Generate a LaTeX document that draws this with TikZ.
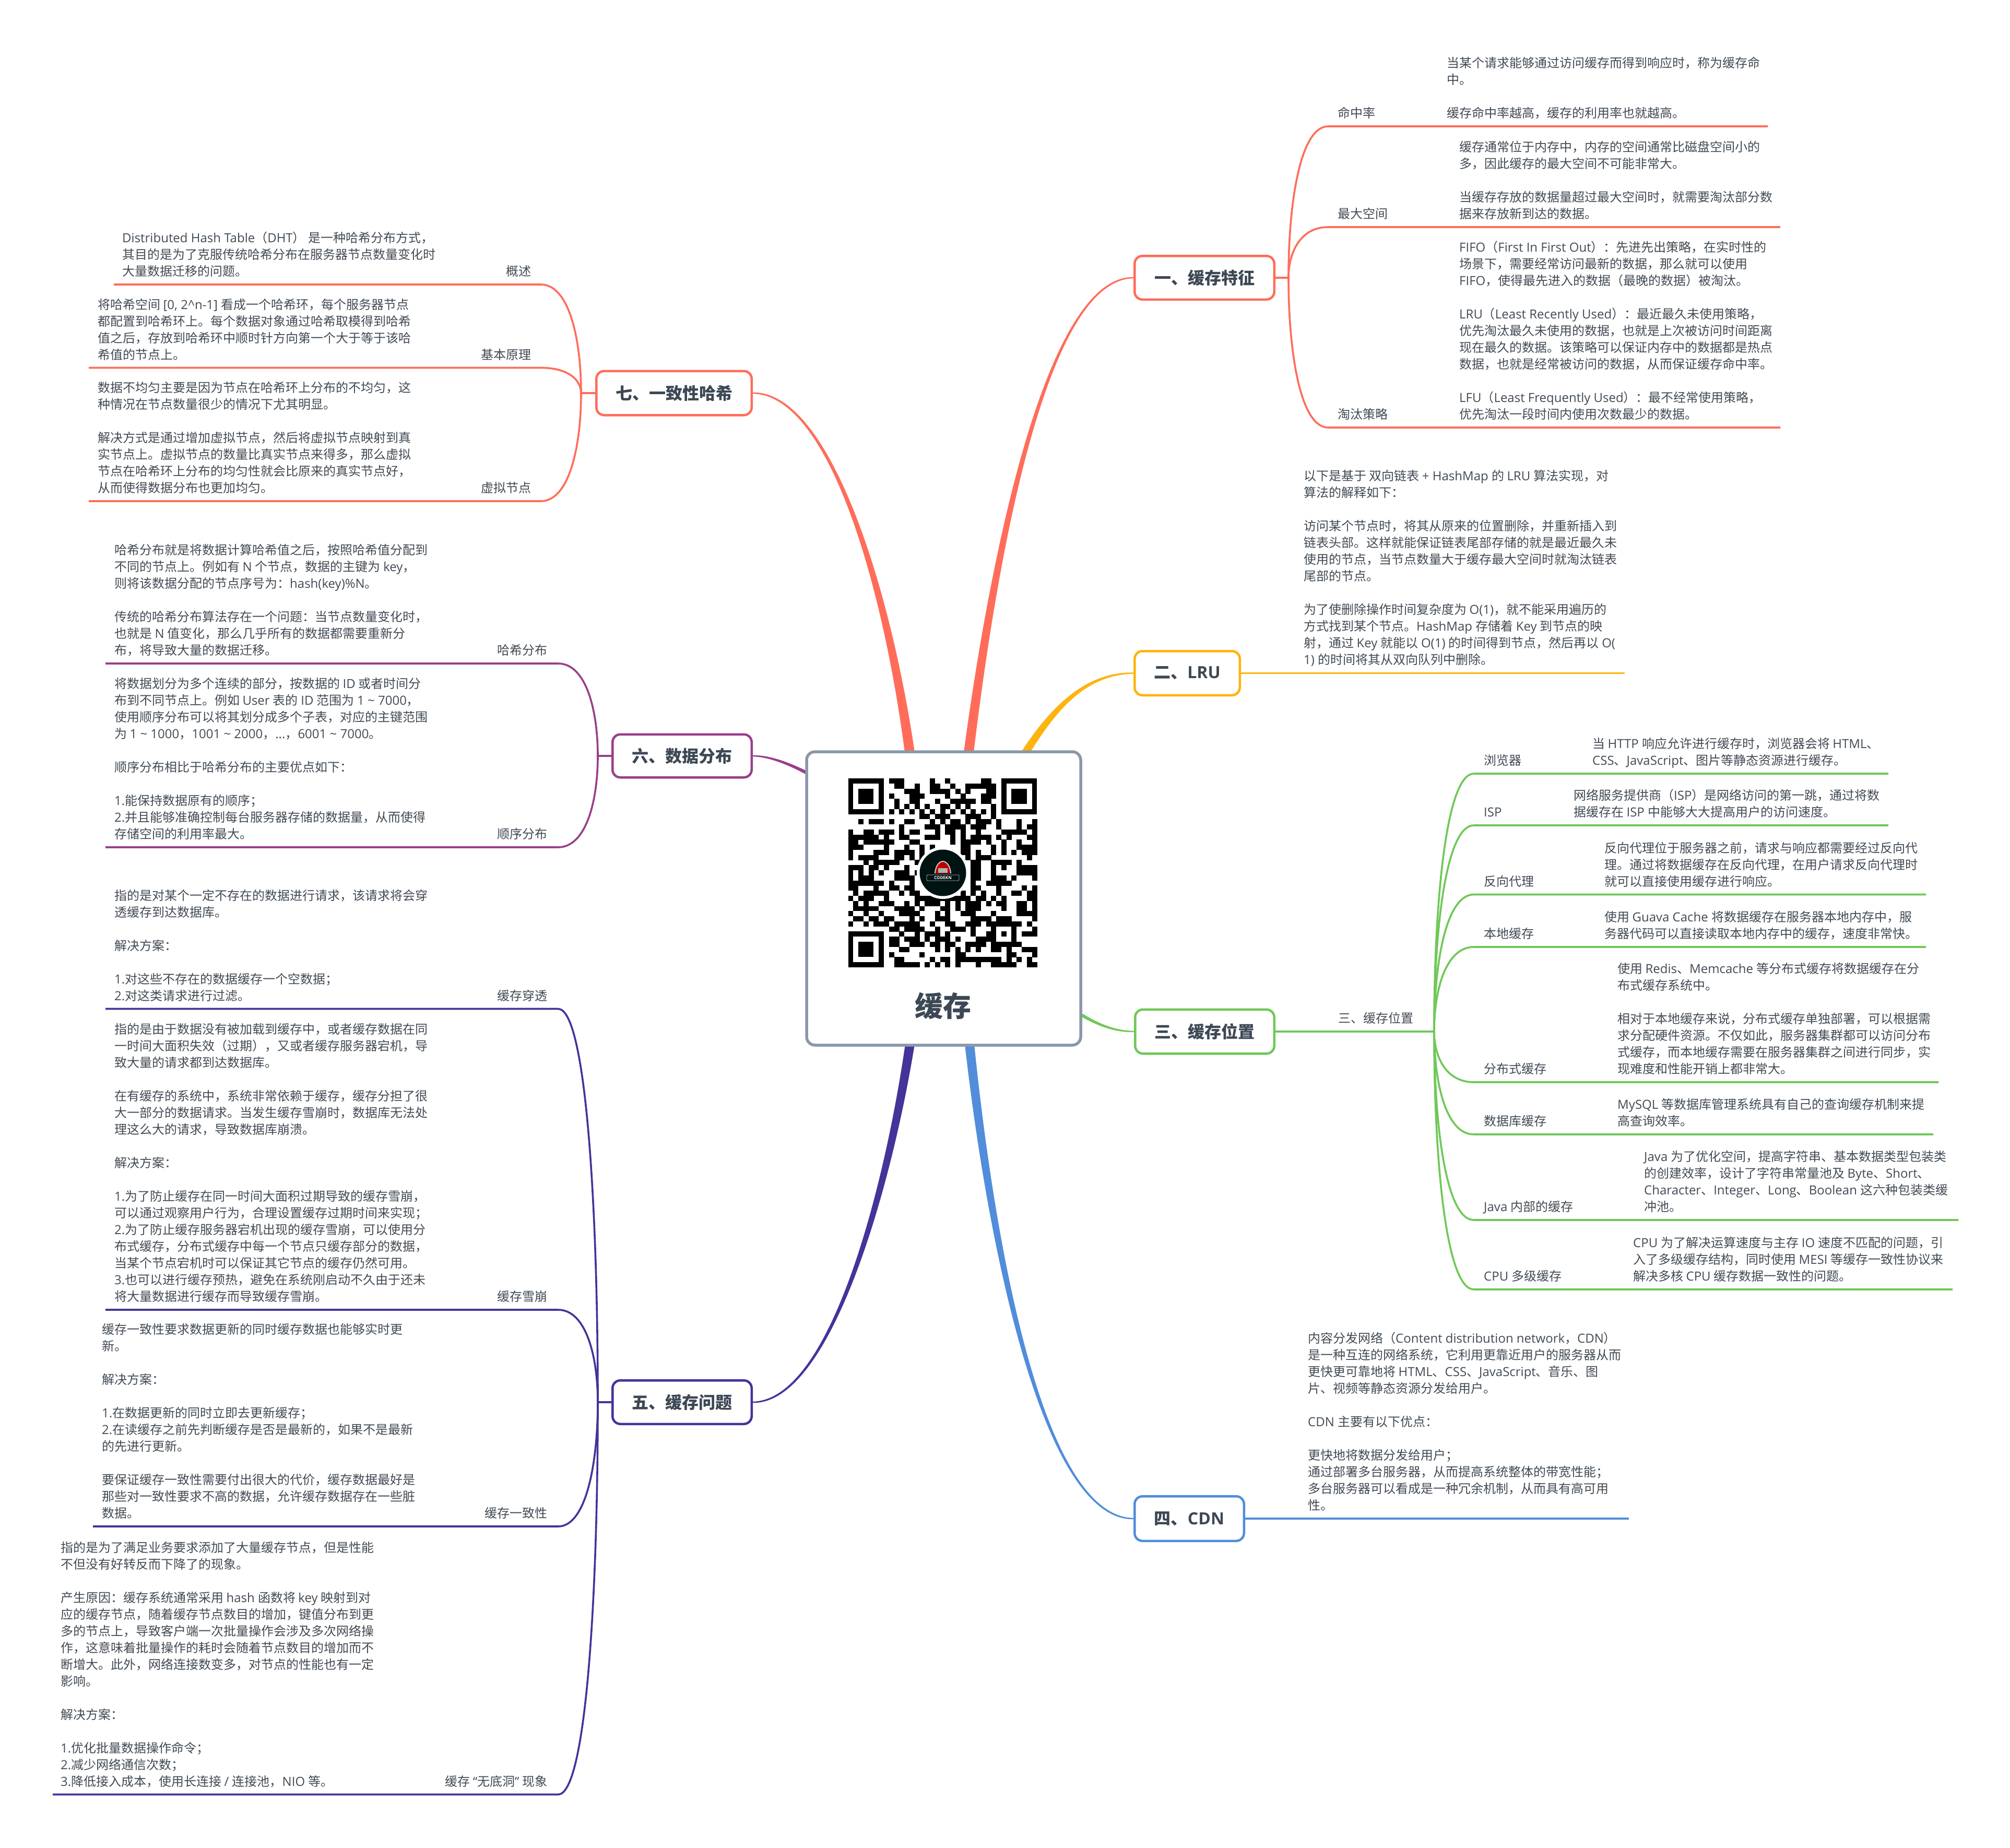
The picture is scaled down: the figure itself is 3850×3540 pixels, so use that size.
\documentclass[tikz,border=0pt]{standalone}
\usepackage{fontspec}
\usetikzlibrary{calc,backgrounds}
\setmainfont{Open Sans}
\newfontfamily\latinf{Open Sans}
\newfontfamily\cjkf{Noto Sans CJK SC}
\XeTeXinterchartokenstate=1
\makeatletter
\count@=1
\loop\ifnum\count@<"2E80 \XeTeXcharclass\count@=0 \advance\count@ 1 \repeat
\count@="2E80
\loop\ifnum\count@<"A000 \XeTeXcharclass\count@=10 \advance\count@ 1 \repeat
\count@="F900
\loop\ifnum\count@<"FB00 \XeTeXcharclass\count@=10 \advance\count@ 1 \repeat
\count@="FF00
\loop\ifnum\count@<"FFF0 \XeTeXcharclass\count@=10 \advance\count@ 1 \repeat
\makeatother
\XeTeXinterchartoks 0 10 = {\cjkf}
\XeTeXinterchartoks 10 0 = {\latinf}
\XeTeXinterchartoks 4095 10 = {\cjkf}
\XeTeXinterchartoks 4095 0 = {\latinf}
\definecolor{coral}{HTML}{FF6D5A}
\definecolor{amber}{HTML}{FDB40E}
\definecolor{leaf}{HTML}{6FC858}
\definecolor{sky}{HTML}{518DDB}
\definecolor{indigo}{HTML}{43349A}
\definecolor{plum}{HTML}{993F8A}
\definecolor{slate}{HTML}{8A97AB}
\definecolor{ink}{HTML}{414A54}
\definecolor{title}{HTML}{3D4855}
\tikzset{
  body/.style={inner sep=0pt,yshift=-2pt,align=left,text=ink,font=\fontsize{24}{32}\selectfont,
    execute at end node={\rule[-7pt]{0pt}{7pt}}},
  tl/.style={body,anchor=south west},
  tr/.style={body,anchor=south east},
  branch/.style={draw=#1,line width=4.5pt,rounded corners=15pt,fill=white,inner sep=0pt,
    text=title,font=\fontsize{32}{36}\selectfont\bfseries},
  conn/.style={draw=#1,line width=3.6pt},
}
% colour, junction, curve end, line end
\newcommand\twig[4]{\draw[conn=#1] (#2) .. controls ($(#2)!.5!(#2|-#3)$) and ($(#2|-#3)!.3!(#3)$) .. (#3) -- (#4);}
% colour, start, c1, c2, end, dx, dy, half width at c2
\newcommand\trunk[8]{\fill[#1] ($(#2)+(#6,#7)$) .. controls ($(#3)+0.75*(#6,#7)$) and ($(#4)+(0,#8)$) .. ($(#5)+(0,1.2)$) -- ($(#5)+(0,-1.2)$) .. controls ($(#4)+(0,-#8)$) and ($(#3)-0.75*(#6,#7)$) .. ($(#2)-(#6,#7)$) -- cycle;}
\newcommand\finder[2]{%
  \fill[black] ({1624.5+9.78*#1},{1491+9.78*#2}) rectangle +(68.5,68.5);
  \fill[white] ({1624.5+9.78*(#1+1)},{1491+9.78*(#2+1)}) rectangle +(48.9,48.9);
  \fill[black] ({1624.5+9.78*(#1+2)},{1491+9.78*(#2+2)}) rectangle +(29.3,29.3);}
\begin{document}
\begin{tikzpicture}[x=1pt,y=-1pt]
\useasboundingbox (0,0) rectangle (3850,3540);
\begin{scope}[on background layer]
\fill[white] (0,0) rectangle (3850,3540);
\end{scope}

% central topic
\node[draw=slate,line width=5.5pt,rounded corners=16pt,fill=white,minimum width=525pt,minimum height=562pt,inner sep=0pt] (root) at (1807.5,1721) {};
\node[inner sep=0pt,text=title,font=\fontsize{54}{60}\selectfont\bfseries] (roottext) at (1806,1927) {缓存};

% QR code
\foreach \r/\cs in {
0/{8,9,10,16,19,26,27},
1/{9,10,13,16,17,20,23,24,25,26,27,28},
2/{11,12,13,16,17,18,19,21,23,27,28},
3/{8,12,13,14,19,22,26,27,28},
4/{9,12,13,17,20,21,22,23,24,26,27},
5/{9,11,13,15,18,19,21,23,28},
6/{8,10,12,14,16,18,20,22,24,26,28},
7/{14,15,17,18,19,23,24,25,28},
8/{2,4,5,6,8,11,12,16,18,20,21,23,25,26,27,29,33,36},
9/{10,15,16,17,19,20,21,22,24,25,26,29,33,35,36},
10/{0,3,4,6,7,8,10,12,13,17,19,20,22,25,30,31,32,33,34,36},
11/{0,1,2,3,4,5,7,10,11,15,16,17,20,22,24,25,26,27,29,31,35,36},
12/{0,1,3,4,5,6,7,8,12,13,20,22,23,24,25,27,30,33,36},
13/{0,1,2,7,11,14,16,22,23,28,30,33,34,35,36},
14/{0,5,6,7,9,10,11,12,14,22,23,25,28,30,32,34,35,36},
15/{0,2,3,4,5,9,10,12,14,23,25,26,27,35},
16/{3,5,6,7,8,9,13,24,25,28,29,30,31,33},
17/{0,1,2,4,5,7,11,24,25,28,30,33,34,35,36},
18/{0,2,4,6,9,10,11,13,24,25,28,33,34,35,36},
19/{0,2,3,4,9,10,11,12,24,25,28,29,30,32,36},
20/{0,1,2,3,4,5,6,8,12,24,27,28,29,30,31},
21/{0,1,5,8,9,11,12,24,25,29,34,36},
22/{1,3,4,5,6,7,10,12,13,22,24,26,29,32,33,35,36},
23/{0,2,3,4,7,13,14,15,16,17,18,19,20,21,22,23,25,26,28,30,35,36},
24/{1,3,6,7,8,11,13,15,16,17,19,21,23,24,25,27,29,30,33,34,36},
25/{1,2,3,4,5,9,10,11,12,14,18,19,21,23,24,25,30,33,34,36},
26/{0,3,6,10,11,12,13,17,19,22,23,24,28,33,34,35,36},
27/{1,2,4,5,7,8,12,14,17,18,19,24,25,26,27,29,30,31,36},
28/{0,3,5,6,7,9,10,11,12,13,16,19,20,23,24,25,27,28,29,30,31,32,33,35},
29/{8,9,11,12,13,14,17,20,21,22,24,28,32,36},
30/{10,13,15,16,17,19,24,27,28,30,32,34,35,36},
31/{8,9,11,12,13,15,17,18,19,21,25,26,27,28,32},
32/{8,9,12,13,14,16,17,19,20,23,24,25,26,28,29,30,31,32,33},
33/{10,11,17,19,21,23,25,28,29,31,34,35,36},
34/{8,14,21,22,31,32,36},
35/{9,10,16,18,19,21,22,23,24,25,26,27,28,29,31,33,35},
36/{9,10,11,12,13,15,17,19,21,25,28,29,30,31,32,35,36}}{
  \foreach \c in \cs { \fill[black] ({1624.5+9.78*\c},{1491+9.78*\r}) rectangle +(9.98,9.98); }
}
\finder{0}{0}\finder{30}{0}\finder{0}{30}
% logo
\fill[white] (1806,1672) circle (50);
\fill[black!85!teal] (1806,1672) circle (44.5);
\fill[black!20] (1790,1673) .. controls (1791,1656) and (1800,1649) .. (1806,1649) .. controls (1812,1649) and (1821,1656) .. (1822,1673) -- cycle;
\fill[red!75!black] (1792,1673) .. controls (1793,1658) and (1801,1651) .. (1806,1651) .. controls (1811,1651) and (1819,1658) .. (1820,1673) -- cycle;
\fill[black!30] (1797,1663) rectangle (1815,1672);
\node[draw=black!25,line width=.8pt,rounded corners=1.5pt,minimum width=62pt,minimum height=11pt,inner sep=0pt,text=white,font=\fontsize{8}{9}\selectfont\bfseries] (logo) at (1806,1681.5) {CODEKN};

% branch topics
\node[branch=coral,minimum width=267.5pt,minimum height=83.5pt] (b1) at (2307,532) {一、缓存特征};
\node[branch=amber,minimum width=201.5pt,minimum height=84.5pt] (b2) at (2274,1289.5) {二、LRU};
\node[branch=leaf,minimum width=266.5pt,minimum height=84.5pt] (b3) at (2307.5,1976) {三、缓存位置};
\node[branch=sky,minimum width=209.5pt,minimum height=85.5pt] (b4) at (2278,2909) {四、CDN};
\node[branch=indigo,minimum width=266.5pt,minimum height=83.5pt] (b5) at (1306.5,2686) {五、缓存问题};
\node[branch=plum,minimum width=266.5pt,minimum height=82.5pt] (b6) at (1306.5,1448) {六、数据分布};
\node[branch=coral,minimum width=297.5pt,minimum height=84.5pt] (b7) at (1291,753) {七、一致性哈希};

% tapered main connectors
\begin{scope}[on background layer]
\coordinate (s1) at (1855,1445); \coordinate (s1a) at (1900,1090); \coordinate (s1b) at (2000,532);
\trunk{coral}{s1}{s1a}{s1b}{b1.west}{9.5}{0}{4}
\coordinate (s2) at (1950,1465); \coordinate (s2a) at (2015,1355); \coordinate (s2b) at (2080,1289.5);
\trunk{amber}{s2}{s2a}{s2b}{b2.west}{7}{4}{3}
\coordinate (s3) at (2040,1925); \coordinate (s3a) at (2080,1950); \coordinate (s3b) at (2120,1976);
\trunk{leaf}{s3}{s3a}{s3b}{b3.west}{-1.7}{3.5}{2.2}
\coordinate (s4) at (1857,2000); \coordinate (s4a) at (1900,2400); \coordinate (s4b) at (2000,2909);
\trunk{sky}{s4}{s4a}{s4b}{b4.west}{-9}{0}{4}
\coordinate (s5) at (1743,2000); \coordinate (s5a) at (1700,2280); \coordinate (s5b) at (1590,2686);
\trunk{indigo}{s5}{s5a}{s5b}{b5.east}{9}{0}{4}
\coordinate (s6) at (1580,1500); \coordinate (s6a) at (1530,1470); \coordinate (s6b) at (1480,1448);
\trunk{plum}{s6}{s6a}{s6b}{b6.east}{-1.7}{3.5}{2.2}
\coordinate (s7) at (1743,1445); \coordinate (s7a) at (1700,1130); \coordinate (s7b) at (1590,753);
\trunk{coral}{s7}{s7a}{s7b}{b7.east}{-9.5}{0}{4}
\end{scope}

% ---------- 一
\coordinate (j1) at (2468,532);
\coordinate (a11) at (2544,242); \coordinate (e11) at (3386,242);
\coordinate (a12) at (2544,435); \coordinate (e12) at (3410,435);
\coordinate (a13) at (2544,819); \coordinate (e13) at (3410,819);
\draw[conn=coral] (b1) -- (j1);
\twig{coral}{j1}{a11}{e11}\twig{coral}{j1}{a12}{e12}\twig{coral}{j1}{a13}{e13}
\node[tl] (l11) at (2562,231) {命中率};
\node[tl] (t11) at (2771,231) {当某个请求能够通过访问缓存而得到响应时，称为缓存命\\中。\\[32pt]缓存命中率越高，缓存的利用率也就越高。};
\node[tl] (l12) at (2562,424) {最大空间};
\node[tl] (t12) at (2795,424) {缓存通常位于内存中，内存的空间通常比磁盘空间小的\\多，因此缓存的最大空间不可能非常大。\\[32pt]当缓存存放的数据量超过最大空间时，就需要淘汰部分数\\据来存放新到达的数据。};
\node[tl] (l13) at (2562,808) {淘汰策略};
\node[tl] (t13) at (2795,808) {FIFO（First In First Out）：先进先出策略，在实时性的\\场景下，需要经常访问最新的数据，那么就可以使用\\FIFO，使得最先进入的数据（最晚的数据）被淘汰。\\[32pt]LRU（Least Recently Used）：最近最久未使用策略，\\优先淘汰最久未使用的数据，也就是上次被访问时间距离\\现在最久的数据。该策略可以保证内存中的数据都是热点\\数据，也就是经常被访问的数据，从而保证缓存命中率。\\[32pt]LFU（Least Frequently Used）：最不经常使用策略，\\优先淘汰一段时间内使用次数最少的数据。};

% ---------- 二
\coordinate (e2) at (3112,1289.5);
\draw[conn=amber] (b2) -- (e2);
\node[tl] (t2) at (2497,1278) {以下是基于 双向链表 + HashMap 的 LRU 算法实现，对\\算法的解释如下：\\[32pt]访问某个节点时，将其从原来的位置删除，并重新插入到\\链表头部。这样就能保证链表尾部存储的就是最近最久未\\使用的节点，当节点数量大于缓存最大空间时就淘汰链表\\尾部的节点。\\[32pt]为了使删除操作时间复杂度为 O(1)，就不能采用遍历的\\方式找到某个节点。HashMap 存储着 Key 到节点的映\\射，通过 Key 就能以 O(1) 的时间得到节点，然后再以 O(\\1) 的时间将其从双向队列中删除。};

% ---------- 三
\coordinate (j3) at (2747,1976);
\draw[conn=leaf] (b3) -- (j3);
\node[tl] (l30) at (2563,1965) {三、缓存位置};
\coordinate (a31) at (2823,1482); \coordinate (e31) at (3617,1482);
\coordinate (a32) at (2823,1581); \coordinate (e32) at (3617,1581);
\coordinate (a33) at (2823,1713.5); \coordinate (e33) at (3689,1713.5);
\coordinate (a34) at (2823,1814); \coordinate (e34) at (3689,1814);
\coordinate (a35) at (2823,2073); \coordinate (e35) at (3713,2073);
\coordinate (a36) at (2823,2173); \coordinate (e36) at (3703,2173);
\coordinate (a37) at (2823,2337); \coordinate (e37) at (3751,2337);
\coordinate (a38) at (2823,2470); \coordinate (e38) at (3740,2470);
\twig{leaf}{j3}{a31}{e31}\twig{leaf}{j3}{a32}{e32}\twig{leaf}{j3}{a33}{e33}\twig{leaf}{j3}{a34}{e34}
\twig{leaf}{j3}{a35}{e35}\twig{leaf}{j3}{a36}{e36}\twig{leaf}{j3}{a37}{e37}\twig{leaf}{j3}{a38}{e38}
\node[tl] (l31) at (2842,1471) {浏览器};
\node[tl] (t31) at (3050,1471) {当 HTTP 响应允许进行缓存时，浏览器会将 HTML、\\CSS、JavaScript、图片等静态资源进行缓存。};
\node[tl] (l32) at (2842,1570) {ISP};
\node[tl] (t32) at (3014,1570) {网络服务提供商（ISP）是网络访问的第一跳，通过将数\\据缓存在 ISP 中能够大大提高用户的访问速度。};
\node[tl] (l33) at (2842,1702.5) {反向代理};
\node[tl] (t33) at (3073,1702.5) {反向代理位于服务器之前，请求与响应都需要经过反向代\\理。通过将数据缓存在反向代理，在用户请求反向代理时\\就可以直接使用缓存进行响应。};
\node[tl] (l34) at (2842,1803) {本地缓存};
\node[tl] (t34) at (3073,1803) {使用 Guava Cache 将数据缓存在服务器本地内存中，服\\务器代码可以直接读取本地内存中的缓存，速度非常快。};
\node[tl] (l35) at (2842,2062) {分布式缓存};
\node[tl] (t35) at (3098,2062) {使用 Redis、Memcache 等分布式缓存将数据缓存在分\\布式缓存系统中。\\[32pt]相对于本地缓存来说，分布式缓存单独部署，可以根据需\\求分配硬件资源。不仅如此，服务器集群都可以访问分布\\式缓存，而本地缓存需要在服务器集群之间进行同步，实\\现难度和性能开销上都非常大。};
\node[tl] (l36) at (2842,2162) {数据库缓存};
\node[tl] (t36) at (3098,2162) {MySQL 等数据库管理系统具有自己的查询缓存机制来提\\高查询效率。};
\node[tl] (l37) at (2842,2326) {Java 内部的缓存};
\node[tl] (t37) at (3149,2326) {Java 为了优化空间，提高字符串、基本数据类型包装类\\的创建效率，设计了字符串常量池及 Byte、Short、\\Character、Integer、Long、Boolean 这六种包装类缓\\冲池。};
\node[tl] (l38) at (2842,2459) {CPU 多级缓存};
\node[tl] (t38) at (3128,2459) {CPU 为了解决运算速度与主存 IO 速度不匹配的问题，引\\入了多级缓存结构，同时使用 MESI 等缓存一致性协议来\\解决多核 CPU 缓存数据一致性的问题。};

% ---------- 四
\coordinate (e4) at (3120,2909);
\draw[conn=sky] (b4) -- (e4);
\node[tl] (t4) at (2505,2898) {内容分发网络（Content distribution network，CDN）\\是一种互连的网络系统，它利用更靠近用户的服务器从而\\更快更可靠地将 HTML、CSS、JavaScript、音乐、图\\片、视频等静态资源分发给用户。\\[32pt]CDN 主要有以下优点：\\[32pt]更快地将数据分发给用户；\\通过部署多台服务器，从而提高系统整体的带宽性能；\\多台服务器可以看成是一种冗余机制，从而具有高可用\\性。};

% ---------- 五
\coordinate (j5) at (1145,2686);
\draw[conn=indigo] (b5) -- (j5);
\coordinate (a51) at (1069,1932.5); \coordinate (e51) at (202,1932.5);
\coordinate (a52) at (1069,2509); \coordinate (e52) at (202,2509);
\coordinate (a53) at (1069,2924); \coordinate (e53) at (178,2924);
\coordinate (a54) at (1069,3437.5); \coordinate (e54) at (101,3437.5);
\twig{indigo}{j5}{a51}{e51}\twig{indigo}{j5}{a52}{e52}\twig{indigo}{j5}{a53}{e53}\twig{indigo}{j5}{a54}{e54}
\node[tr] (l51) at (1049,1921.5) {缓存穿透};
\node[tl] (t51) at (219,1921.5) {指的是对某个一定不存在的数据进行请求，该请求将会穿\\透缓存到达数据库。\\[32pt]解决方案：\\[32pt]1.对这些不存在的数据缓存一个空数据；\\2.对这类请求进行过滤。};
\node[tr] (l52) at (1049,2498) {缓存雪崩};
\node[tl] (t52) at (219,2498) {指的是由于数据没有被加载到缓存中，或者缓存数据在同\\一时间大面积失效（过期），又或者缓存服务器宕机，导\\致大量的请求都到达数据库。\\[32pt]在有缓存的系统中，系统非常依赖于缓存，缓存分担了很\\大一部分的数据请求。当发生缓存雪崩时，数据库无法处\\理这么大的请求，导致数据库崩溃。\\[32pt]解决方案：\\[32pt]1.为了防止缓存在同一时间大面积过期导致的缓存雪崩，\\可以通过观察用户行为，合理设置缓存过期时间来实现；\\2.为了防止缓存服务器宕机出现的缓存雪崩，可以使用分\\布式缓存，分布式缓存中每一个节点只缓存部分的数据，\\当某个节点宕机时可以保证其它节点的缓存仍然可用。\\3.也可以进行缓存预热，避免在系统刚启动不久由于还未\\将大量数据进行缓存而导致缓存雪崩。};
\node[tr] (l53) at (1049,2913) {缓存一致性};
\node[tl] (t53) at (195,2913) {缓存一致性要求数据更新的同时缓存数据也能够实时更\\新。\\[32pt]解决方案：\\[32pt]1.在数据更新的同时立即去更新缓存；\\2.在读缓存之前先判断缓存是否是最新的，如果不是最新\\的先进行更新。\\[32pt]要保证缓存一致性需要付出很大的代价，缓存数据最好是\\那些对一致性要求不高的数据，允许缓存数据存在一些脏\\数据。};
\node[tr] (l54) at (1049,3426.5) {缓存 “无底洞” 现象};
\node[tl] (t54) at (116,3426.5) {指的是为了满足业务要求添加了大量缓存节点，但是性能\\不但没有好转反而下降了的现象。\\[32pt]产生原因：缓存系统通常采用 hash 函数将 key 映射到对\\应的缓存节点，随着缓存节点数目的增加，键值分布到更\\多的节点上，导致客户端一次批量操作会涉及多次网络操\\作，这意味着批量操作的耗时会随着节点数目的增加而不\\断增大。此外，网络连接数变多，对节点的性能也有一定\\影响。\\[32pt]解决方案：\\[32pt]1.优化批量数据操作命令；\\2.减少网络通信次数；\\3.降低接入成本，使用长连接 / 连接池，NIO 等。};

% ---------- 六
\coordinate (j6) at (1145,1448);
\draw[conn=plum] (b6) -- (j6);
\coordinate (a61) at (1069,1271); \coordinate (e61) at (202,1271);
\coordinate (a62) at (1069,1623); \coordinate (e62) at (202,1623);
\twig{plum}{j6}{a61}{e61}\twig{plum}{j6}{a62}{e62}
\node[tr] (l61) at (1049,1260) {哈希分布};
\node[tl] (t61) at (219,1260) {哈希分布就是将数据计算哈希值之后，按照哈希值分配到\\不同的节点上。例如有 N 个节点，数据的主键为 key，\\则将该数据分配的节点序号为：hash(key)\%N。\\[32pt]传统的哈希分布算法存在一个问题：当节点数量变化时，\\也就是 N 值变化，那么几乎所有的数据都需要重新分\\布，将导致大量的数据迁移。};
\node[tr] (l62) at (1049,1612) {顺序分布};
\node[tl] (t62) at (219,1612) {将数据划分为多个连续的部分，按数据的 ID 或者时间分\\布到不同节点上。例如 User 表的 ID 范围为 1 \string~ 7000，\\使用顺序分布可以将其划分成多个子表，对应的主键范围\\为 1 \string~ 1000，1001 \string~ 2000，...，6001 \string~ 7000。\\[32pt]顺序分布相比于哈希分布的主要优点如下：\\[32pt]1.能保持数据原有的顺序；\\2.并且能够准确控制每台服务器存储的数据量，从而使得\\存储空间的利用率最大。};

% ---------- 七
\coordinate (j7) at (1113,753);
\draw[conn=coral] (b7) -- (j7);
\coordinate (a71) at (1036,545); \coordinate (e71) at (218,545);
\coordinate (a72) at (1036,704.5); \coordinate (e72) at (170,704.5);
\coordinate (a73) at (1036,960); \coordinate (e73) at (170,960);
\twig{coral}{j7}{a71}{e71}\twig{coral}{j7}{a72}{e72}\twig{coral}{j7}{a73}{e73}
\node[tr] (l71) at (1018,534) {概述};
\node[tl] (t71) at (234,534) {Distributed Hash Table（DHT） 是一种哈希分布方式，\\其目的是为了克服传统哈希分布在服务器节点数量变化时\\大量数据迁移的问题。};
\node[tr] (l72) at (1018,693.5) {基本原理};
\node[tl] (t72) at (187,693.5) {将哈希空间 [0, 2\string^n-1] 看成一个哈希环，每个服务器节点\\都配置到哈希环上。每个数据对象通过哈希取模得到哈希\\值之后，存放到哈希环中顺时针方向第一个大于等于该哈\\希值的节点上。};
\node[tr] (l73) at (1018,949) {虚拟节点};
\node[tl] (t73) at (187,949) {数据不均匀主要是因为节点在哈希环上分布的不均匀，这\\种情况在节点数量很少的情况下尤其明显。\\[32pt]解决方式是通过增加虚拟节点，然后将虚拟节点映射到真\\实节点上。虚拟节点的数量比真实节点来得多，那么虚拟\\节点在哈希环上分布的均匀性就会比原来的真实节点好，\\从而使得数据分布也更加均匀。};
\end{tikzpicture}
\end{document}
